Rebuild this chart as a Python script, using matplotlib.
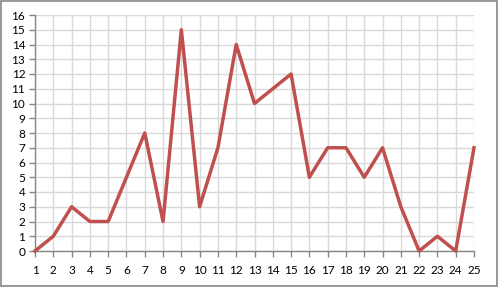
import matplotlib
matplotlib.use("Agg")
import matplotlib.pyplot as plt
from matplotlib.patches import Rectangle

x_values = list(range(1, 26))
y_values = [0, 1, 3, 2, 2, 5, 8, 2, 15, 3, 7, 14, 10, 11, 12, 5, 7, 7, 5, 7, 3, 0, 1, 0, 7]
y_ticks = list(range(0, 17))

plt.rcParams['font.family'] = ['Lato', 'DejaVu Sans']

fig = plt.figure(figsize=(4.98, 2.87), dpi=100)
ax = fig.add_axes([35/498, 1-251/287, (474-35)/498, (251-15)/287])

ax.plot(x_values, y_values, color='#C0504D', linewidth=2.5, solid_joinstyle='round', zorder=3, clip_on=False)

ax.set_xlim(1, 25)
ax.set_ylim(0, 16)
ax.set_xticks(x_values)
ax.set_yticks(y_ticks)
ax.grid(True, color='#D9D9D9', linewidth=1)
ax.set_axisbelow(True)
for s in ['top', 'right']:
    ax.spines[s].set_visible(False)
for s in ['left', 'bottom']:
    ax.spines[s].set_color('#868686')
    ax.spines[s].set_linewidth(1)
ax.tick_params(axis='both', colors='#868686', labelcolor='black', labelsize=8.5, length=4, width=1)
ax.tick_params(axis='x', pad=6)
ax.tick_params(axis='y', pad=3)

fig.patches.append(Rectangle((1/498, 1/287), 496/498, 285/287, transform=fig.transFigure,
                             fill=False, edgecolor='#868686', linewidth=1.2))

fig.savefig('out.png', dpi=100)
